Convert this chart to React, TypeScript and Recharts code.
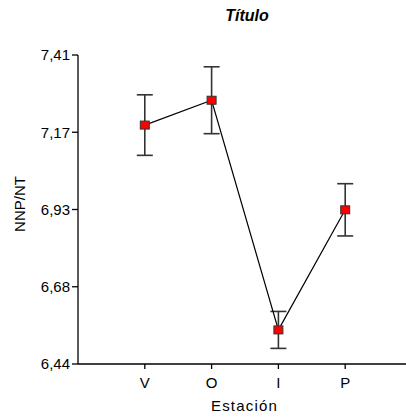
import { LineChart, Line, XAxis, YAxis, ErrorBar, Customized } from 'recharts';

const stations = ['V', 'O', 'I', 'P'];
const means = [7.19, 7.268, 6.547, 6.924];
const errors = [0.095, 0.105, 0.058, 0.082];
const yTicks = [6.44, 6.6825, 6.925, 7.1675, 7.41];
const yTickLabels = ['6,44', '6,68', '6,93', '7,17', '7,41'];

const data = stations.map((name, i) => ({
  x: i + 1,
  name,
  mean: means[i],
  err: errors[i],
}));

const font = "'Liberation Sans', Arial, sans-serif";

const SquareDot = (props: any) => {
  const { cx, cy, index } = props;
  return (
    <rect
      key={'dot-' + index}
      x={cx - 4.5}
      y={cy - 4}
      width={9}
      height={8}
      fill="#ff0000"
      stroke="#333333"
      strokeWidth={1}
    />
  );
};

const Title = () => (
  <text
    x={247}
    y={21}
    textAnchor="middle"
    fontFamily={font}
    fontSize={16}
    fontWeight="bold"
    fontStyle="italic"
    fill="#000"
  >
    Título
  </text>
);

export default function App() {
  return (
    <div
      style={{
        position: 'absolute',
        left: 0,
        top: 0,
        width: 406,
        height: 418,
        overflow: 'hidden',
        background: '#fff',
      }}
    >
      <LineChart
        width={412}
        height={418}
        data={data}
        margin={{ top: 55, right: 0, bottom: 0, left: 0 }}
      >
        <XAxis
          type="number"
          dataKey="x"
          domain={[0, 5]}
          ticks={[1, 2, 3, 4]}
          tickFormatter={(v: number) => stations[v - 1]}
          height={54}
          tickSize={5}
          tickMargin={8}
          axisLine={{ stroke: '#000', strokeWidth: 1.3 }}
          tickLine={{ stroke: '#000', strokeWidth: 1.3 }}
          tick={{ fill: '#000', fontSize: 15, fontFamily: font }}
          label={{
            content: (p: any) => (
              <text
                x={p.viewBox.x + p.viewBox.width / 2 - 0.5}
                y={411}
                textAnchor="middle"
                fontFamily={font}
                fontSize={15}
                letterSpacing={1.2}
                fill="#000"
              >
                Estación
              </text>
            ),
          }}
        />
        <YAxis
          type="number"
          domain={[6.44, 7.41]}
          ticks={yTicks}
          tickFormatter={(v: number) =>
            yTickLabels[yTicks.findIndex((t) => Math.abs(t - v) < 1e-6)]
          }
          width={78}
          tickSize={6}
          tickMargin={2}
          axisLine={{ stroke: '#000', strokeWidth: 1.3 }}
          tickLine={{ stroke: '#000', strokeWidth: 1.3 }}
          tick={{ fill: '#000', fontSize: 15, fontFamily: font }}
          label={{
            content: () => (
              <text
                x={25}
                y={204}
                transform="rotate(-90 25 204)"
                textAnchor="middle"
                fontFamily={font}
                fontSize={15}
                fill="#000"
              >
                NNP/NT
              </text>
            ),
          }}
        />
        <Line
          type="linear"
          dataKey="mean"
          stroke="#000"
          strokeWidth={1.2}
          dot={SquareDot}
          activeDot={false}
          isAnimationActive={false}
        >
          <ErrorBar
            dataKey="err"
            direction="y"
            width={8}
            stroke="#333333"
            strokeWidth={1.6}
            isAnimationActive={false}
          />
        </Line>
        <Customized component={Title} />
      </LineChart>
    </div>
  );
}
